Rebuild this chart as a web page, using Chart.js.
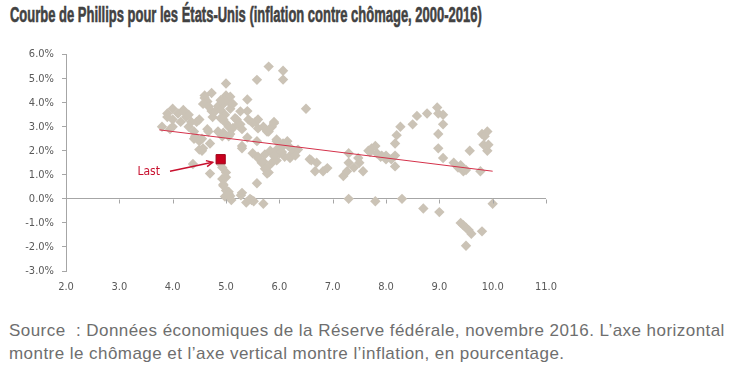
<!DOCTYPE html>
<html>
<head>
<meta charset="utf-8">
<script src="https://cdn.jsdelivr.net/npm/chart.js@4"></script>
<style>
  html,body{margin:0;padding:0;background:#fff;width:740px;height:374px;overflow:hidden;}
  #title{position:absolute;left:10px;top:4px;font-family:'Liberation Sans',Arial,sans-serif;font-weight:bold;font-size:22px;line-height:22px;color:#424242;-webkit-text-stroke:0.6px #424242;white-space:nowrap;transform-origin:0 0;}
  #wrap{position:absolute;left:0;top:40px;width:570px;height:260px;}
  #source{position:absolute;left:9px;top:319px;font-family:'Liberation Sans',Arial,sans-serif;font-size:17px;line-height:23px;letter-spacing:0.45px;color:#6e6e6e;white-space:nowrap;}
</style>
</head>
<body>
<div id="title">Courbe de Phillips pour les États-Unis (inflation contre chômage, 2000-2016)</div>
<div id="wrap"><canvas id="c" width="570" height="260"></canvas></div>
<div id="source">Source &nbsp;: Données économiques de la Réserve fédérale, novembre 2016. L’axe horizontal<br>montre le chômage et l’axe vertical montre l’inflation, en pourcentage.</div>
<script>
// Unemployment rate (%) — x values
const unemployment = [
  3.8,3.9,3.9,4.0,4.0,4.0,3.95,4.1,4.15,4.2,4.2,4.25,4.3,4.3,4.4,4.35,4.45,4.5,4.4,4.42,4.5,4.5,4.55,4.57,4.55,4.65,4.67,4.7,4.38,4.7,
  4.6,4.6,4.65,4.57,4.67,4.73,4.73,4.75,4.8,4.85,4.9,4.9,4.95,4.95,5.0,5.0,5.05,5.08,5.08,5.1,5.13,4.98,4.9,4.95,5.0,5.17,4.95,5.05,4.85,5.05,
  5.13,5.2,5.27,5.27,5.23,5.3,5.4,5.4,5.42,5.5,5.55,5.6,5.6,5.58,5.8,6.07,6.07,4.93,5.08,5.4,5.3,5.3,5.58,5.77,5.7,5.8,5.86,5.9,5.9,5.95,5.95,
  5.5,5.6,5.6,5.67,5.7,5.73,5.77,5.77,5.8,5.73,5.83,5.86,5.9,5.95,6.0,6.07,6.07,6.15,6.17,6.2,6.2,6.25,6.27,6.35,6.0,6.1,5.95,6.05,6.3,
  6.5,6.57,6.6,6.7,6.67,6.82,6.9,
  4.93,5.0,4.93,4.95,5.0,5.08,4.98,5.1,5.28,5.3,5.38,5.48,5.52,5.45,5.58,5.7,4.9,5.0,4.95,5.05,5.05,
  7.2,7.27,7.3,7.3,7.48,7.5,7.57,7.4,7.67,7.73,7.8,7.83,7.92,8.0,8.1,8.17,8.17,8.17,8.2,8.27,8.5,8.58,8.77,8.96,8.98,9.07,9.07,8.98,8.98,9.07,
  9.27,9.35,9.45,9.4,9.5,9.57,9.77,9.8,9.9,9.83,9.9,9.92,9.85,7.7,7.9,8.0,
  7.3,7.8,8.3,8.7,9.0,9.4,9.45,9.5,9.55,9.6,9.8,9.5,10.0
];
// Inflation rate (%) — y values
const inflation = [
  3.0,3.4,3.55,3.75,3.3,3.0,2.9,3.55,3.2,3.7,3.65,3.4,3.5,3.0,2.8,3.2,3.2,3.3,2.5,2.6,2.4,2.05,2.0,2.1,2.5,2.9,2.8,2.3,1.45,1.05,
  4.3,4.2,4.05,3.95,3.85,4.4,3.65,3.4,3.65,3.85,4.1,3.7,3.95,4.1,4.3,4.8,4.05,4.25,3.75,3.95,3.95,3.5,3.35,3.3,3.15,3.35,2.75,2.6,2.8,3.0,
  2.95,3.3,3.64,3.1,3.1,2.9,4.13,3.65,3.3,3.15,3.2,3.3,2.93,4.95,5.5,5.33,4.96,2.6,2.7,2.55,2.2,2.1,2.4,2.8,3.0,2.8,3.0,3.2,3.15,2.47,2.4,
  1.9,1.75,1.7,1.5,1.55,1.25,1.3,1.05,1.1,1.85,2.0,1.5,1.78,2.05,2.1,2.2,2.3,2.4,2.2,1.7,1.78,1.9,2.0,2.05,1.9,1.75,1.6,1.95,1.8,
  3.75,1.65,1.6,1.5,1.15,1.15,1.28,
  1.3,1.1,0.83,0.55,0.35,0.12,0.1,-0.05,0.15,0.25,-0.15,-0.05,-0.1,0.0,0.65,-0.2,1.45,0.9,0.6,0.3,0.2,
  0.95,1.15,1.5,1.9,1.7,1.5,1.15,1.3,2.0,2.1,2.2,1.9,1.8,1.65,1.65,1.8,1.35,2.3,2.65,3.0,3.1,3.45,3.55,3.8,3.55,3.5,3.1,2.7,2.1,1.7,
  1.5,1.3,1.15,1.4,1.2,2.0,1.15,2.7,2.8,2.25,2.0,2.25,2.6,1.95,1.75,1.8,
  0.0,-0.1,0.0,-0.4,-0.55,-1.0,-1.1,-1.2,-1.3,-1.45,-1.35,-1.95,-0.2
];
// Linear trend endpoints
const trendX = [3.75, 10.0];
const trendY = [2.87, 1.15];
// Latest observation
const lastX = [4.9];
const lastY = [1.65];
const lastLabel = 'Last';
const lastLabelPos = [3.55, 1.12];
const arrowFrom = [3.95, 1.15];
const arrowTo = [4.75, 1.52];
// Axis ticks
const xTicks = [2,3,4,5,6,7,8,9,10,11];
const yTicks = [-3,-2,-1,0,1,2,3,4,5,6];

// fit condensed title to reference width
(function(){
  const t = document.getElementById('title');
  const w = t.offsetWidth;
  t.style.transform = 'scaleX(' + (472 / w) + ')';
})();

const narrow = "'DejaVu Sans Condensed','Liberation Sans Narrow',sans-serif";
const axisGray = '#a6a6a6';
const red = '#c8102e';

const annotate = {
  id: 'annotate',
  afterDatasetsDraw(chart) {
    const ctx = chart.ctx, xs = chart.scales.x, ys = chart.scales.y;
    ctx.save();
    ctx.strokeStyle = axisGray; ctx.lineWidth = 1;
    const y0 = Math.round(ys.getPixelForValue(0)) + 0.5;
    xTicks.forEach(v => {
      const px = Math.round(xs.getPixelForValue(v)) + 0.5;
      ctx.beginPath(); ctx.moveTo(px, y0); ctx.lineTo(px, y0 + 4); ctx.stroke();
    });
    ctx.fillStyle = red;
    ctx.font = "12px " + narrow;
    ctx.textAlign = 'center'; ctx.textBaseline = 'middle';
    ctx.fillText(lastLabel, xs.getPixelForValue(lastLabelPos[0]), ys.getPixelForValue(lastLabelPos[1]));
    const ax = xs.getPixelForValue(arrowFrom[0]), ay = ys.getPixelForValue(arrowFrom[1]);
    const bx = xs.getPixelForValue(arrowTo[0]), by = ys.getPixelForValue(arrowTo[1]);
    ctx.strokeStyle = red; ctx.lineWidth = 1.5;
    ctx.beginPath(); ctx.moveTo(ax, ay); ctx.lineTo(bx, by); ctx.stroke();
    const ang = Math.atan2(by - ay, bx - ax), h = 7;
    ctx.beginPath();
    ctx.moveTo(bx - h * Math.cos(ang - 0.45), by - h * Math.sin(ang - 0.45));
    ctx.lineTo(bx, by);
    ctx.lineTo(bx - h * Math.cos(ang + 0.45), by - h * Math.sin(ang + 0.45));
    ctx.stroke();
    ctx.restore();
  }
};

new Chart(document.getElementById('c'), {
  type: 'scatter',
  data: {
    datasets: [
      {
        data: unemployment.map((u, i) => ({x: u, y: inflation[i]})),
        pointStyle: 'rectRot', radius: 5.2, backgroundColor: '#cbc3b6', borderColor: '#cbc3b6', borderWidth: 0, order: 3
      },
      {
        type: 'line',
        data: trendX.map((x, i) => ({x, y: trendY[i]})),
        borderColor: '#d4314a', borderWidth: 1, pointRadius: 0, fill: false, order: 2
      },
      {
        data: lastX.map((x, i) => ({x, y: lastY[i]})),
        pointStyle: 'rect', radius: 6.5, backgroundColor: '#c8001e', borderColor: '#a00018', borderWidth: 1, order: 1
      }
    ]
  },
  options: {
    responsive: false,
    animation: false,
    devicePixelRatio: 1,
    layout: {padding: {top: 13, right: 24, bottom: 0, left: 0}},
    plugins: {legend: {display: false}, tooltip: {enabled: false}},
    scales: {
      x: {
        type: 'linear', min: 2, max: 11,
        afterBuildTicks(s) { s.ticks = xTicks.map(v => ({value: v})); },
        ticks: {callback: v => Number(v).toFixed(1), color: '#595959', font: {family: narrow, size: 11}, padding: 10, maxRotation: 0},
        grid: {display: false, drawTicks: false},
        border: {display: false},
        afterFit(s) { s.height = 29; }
      },
      y: {
        min: -3, max: 6,
        afterBuildTicks(s) { s.ticks = yTicks.map(v => ({value: v})); },
        ticks: {callback: v => Number(v).toFixed(1) + '%', color: '#595959', font: {family: narrow, size: 11}, padding: 8},
        grid: {
          color: c => (c.tick && c.tick.value === 0) ? axisGray : 'rgba(0,0,0,0)',
          tickColor: axisGray, tickLength: 4, drawTicks: true
        },
        border: {display: true, color: axisGray},
        afterFit(s) { s.width = 66; }
      }
    }
  },
  plugins: [annotate]
});
</script>
</body>
</html>
